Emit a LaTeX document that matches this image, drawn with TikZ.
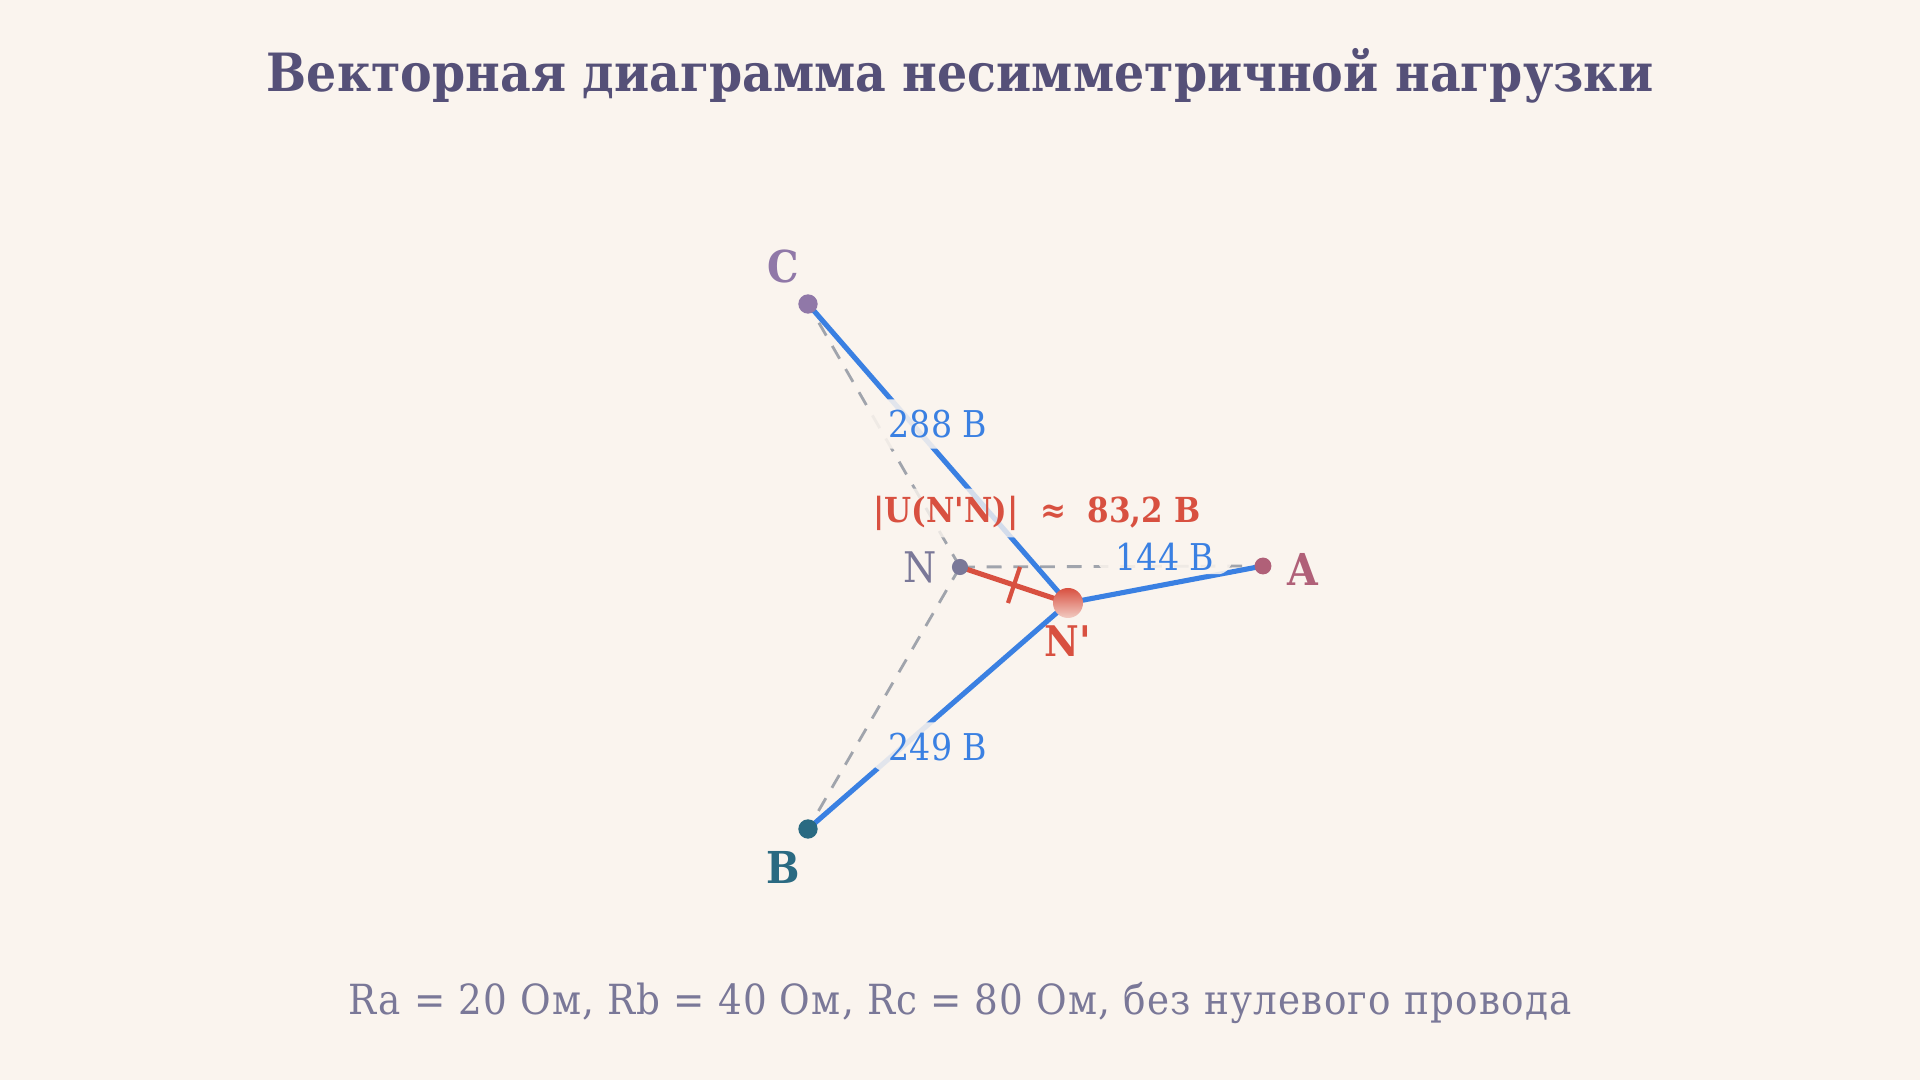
\documentclass[tikz,border=0pt]{standalone}
\usepackage{fontspec}
\setmainfont{DejaVu Serif Condensed}[Ligatures=TeXOff]
\newfontfamily\spacedfont{DejaVu Serif Condensed}[Ligatures=TeXOff,LetterSpace=3]
\usetikzlibrary{calc}
\definecolor{bg}{HTML}{FAF4EE}
\definecolor{titlec}{HTML}{555078}
\definecolor{subc}{HTML}{7A7898}
\definecolor{vblue}{HTML}{3A80E2}
\definecolor{vred}{HTML}{D85040}
\definecolor{dgray}{HTML}{A0A4AC}
\definecolor{ca}{HTML}{B06078}
\definecolor{cb}{HTML}{2A6A82}
\definecolor{cc}{HTML}{9078A8}
\definecolor{cn}{HTML}{7A7898}
\begin{document}
\begin{tikzpicture}[x=0.01cm,y=-0.01cm,
  dot/.style={circle,inner sep=0pt,minimum size=#1},
  phase/.style={line width=1.45pt,vblue,line cap=round},
  star/.style={line width=0.8pt,dgray,dash pattern=on 4.2pt off 3.4pt},
  nshift/.style={line width=1.45pt,vred},
  vlabel/.style={font=\fontsize{10.5}{12}\selectfont,text=vblue,fill=bg,fill opacity=0.88,text opacity=1,inner xsep=5pt,inner ysep=3pt,rounded corners=4pt},
  plabel/.style={font=\bfseries\fontsize{12.5}{14}\selectfont,inner sep=1pt}]
\fill[bg] (0,0) rectangle (1920,1080);
\useasboundingbox (0,0) rectangle (1920,1080);
% points
\coordinate (N) at (960,567);
\coordinate (Np) at (1068,603);
\coordinate (A) at (1263,566);
\coordinate (B) at (808,829);
\coordinate (C) at (808,304);
% title
\node[font=\bfseries\fontsize{15}{18}\selectfont,text=titlec] (title) at (960,76) {Векторная диаграмма несимметричной нагрузки};
% original star (dashed)
\draw[star] (N) -- (A);
\draw[star] (N) -- (B);
\draw[star] (N) -- (C);
% phase voltages of load
\draw[phase] (Np) -- (A);
\draw[phase] (Np) -- (B);
\draw[phase] (Np) -- (C);
% neutral shift
\draw[nshift] (N) -- (Np);
\draw[vred,line width=1.2pt] ($(N)!0.5!(Np)!0.19cm!90:(Np)$) -- ($(N)!0.5!(Np)!0.19cm!-90:(Np)$);
% labels on vectors
\node[vlabel] (lc) at (938,424) {288 В};
\node[vlabel] (lb) at (938,747) {249 В};
\node[vlabel,inner ysep=1pt] (la) at (1165,557) {144 В};
\node[font=\bfseries\fontsize{9.8}{12}\selectfont,text=vred,fill=bg,fill opacity=0.8,text opacity=1,inner sep=2pt,rounded corners=4pt] (lu) at (1037,513) {|U(N'N)|\ \ ≈\ \ 83,2 В};
% dots
\node[dot=4.6pt,fill=cn] (nN) at (N) {};
\node[dot=4.8pt,fill=ca] (nA) at (A) {};
\node[dot=5.5pt,fill=cb] (nB) at (B) {};
\node[dot=5.5pt,fill=cc] (nC) at (C) {};
\shade[top color=vred,middle color=vred,bottom color=vred!25!bg] (Np) circle (0.15cm);
\node[dot=8.5pt] (nNp) at (Np) {};
% point labels
\node[plabel,text=cc] (tC) at (783,267) {C};
\node[plabel,text=cb] (tB) at (783,867) {B};
\node[plabel,text=ca] (tA) at (1303,569) {A};
\node[font=\fontsize{12}{14}\selectfont,text=cn,inner sep=1pt] (tN) at (920,567) {N};
\node[plabel,font=\bfseries\fontsize{12}{14}\selectfont,text=vred] (tNp) at (1068,641) {N'};
% caption
\node[font=\spacedfont\fontsize{11.8}{14}\selectfont,text=subc] (cap) at (960,1003) {Ra = 20 Ом, Rb = 40 Ом, Rc = 80 Ом, без нулевого провода};
\end{tikzpicture}
\end{document}
